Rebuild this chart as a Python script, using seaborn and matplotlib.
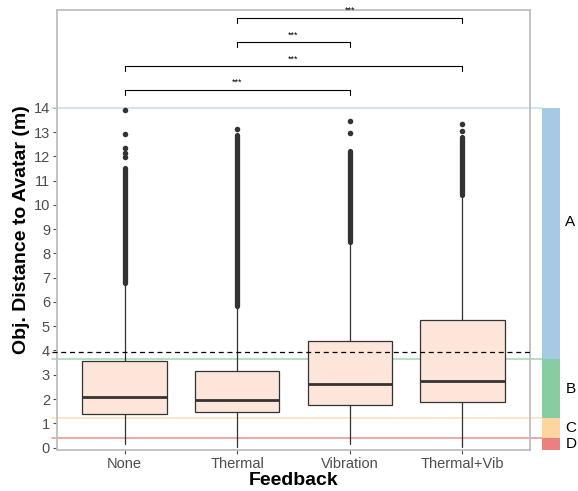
import matplotlib
matplotlib.use("Agg")
import matplotlib.pyplot as plt
import seaborn as sns
import pandas as pd
import numpy as np

# ---------------- data ----------------
categories = ["None", "Thermal", "Vibration", "Thermal+Vib"]
q1 = [1.40, 1.45, 1.76, 1.87]
median = [2.09, 1.98, 2.62, 2.73]
q3 = [3.55, 3.17, 4.40, 5.27]
whisker_low = [0.13, 0.01, 0.14, 0.02]
whisker_high = [6.75, 5.80, 8.40, 10.30]
# dense runs of outliers (start, end) per category
dense_low = [6.80, 5.85, 8.45, 10.40]
dense_high = [11.50, 12.86, 12.22, 12.80]
# isolated outliers
iso_cat = ["None", "None", "None", "None", "None",
           "Thermal",
           "Vibration", "Vibration",
           "Thermal+Vib", "Thermal+Vib"]
iso_val = [13.90, 12.92, 12.33, 12.15, 11.97,
           13.13,
           13.45, 12.96,
           13.32, 13.05]

# significance brackets
sig_left = ["None", "None", "Thermal", "Thermal"]
sig_right = ["Vibration", "Thermal+Vib", "Vibration", "Thermal+Vib"]
sig_y = [14.73, 15.71, 16.70, 17.70]
sig_label = ["***", "***", "***", "***"]

# zones on the right
zone_names = ["A", "B", "C", "D"]
zone_low = [3.65, 1.22, 0.40, -0.10]
zone_high = [14.0, 3.65, 1.22, 0.40]
zone_label_y = [9.3, 2.43, 0.82, 0.15]
zone_colors = ["#A6CAE3", "#88CCA2", "#FDD59F", "#EA8080"]
zone_line_colors = ["#C6DDEC", "#9FD6B4", "#FDE0B8", "#EE8E8E"]
zone_line_y = [14.0, 3.65, 1.22, 0.40]
threshold = 3.95

# ---------------- figure ----------------
sns.set_theme(style="white")
plt.rcParams["font.family"] = ["Liberation Sans", "DejaVu Sans"]

fig = plt.figure(figsize=(5.78, 4.91), dpi=100)
W, H = 578, 491
ax = fig.add_axes([57 / W, 1 - 450 / H, (530 - 57) / W, (450 - 9.5) / H])

pos = {c: i for i, c in enumerate(categories)}
stats = []
for i, c in enumerate(categories):
    stats.append(dict(label=c, q1=q1[i], med=median[i], q3=q3[i],
                      whislo=whisker_low[i], whishi=whisker_high[i], fliers=[]))
edge = "#333333"
ax.bxp(stats, positions=list(range(len(categories))), widths=0.75,
       patch_artist=True, showfliers=False, showcaps=False,
       boxprops=dict(facecolor="#FDE5D9", edgecolor=edge, linewidth=0.9),
       medianprops=dict(color=edge, linewidth=2.0),
       whiskerprops=dict(color=edge, linewidth=0.9), zorder=3)

# dense outliers as thick rounded runs
for i, c in enumerate(categories):
    ax.plot([pos[c], pos[c]], [dense_low[i], dense_high[i]], color=edge,
            linewidth=3.8, solid_capstyle="round", zorder=4)
iso_df = pd.DataFrame({"x": [pos[c] for c in iso_cat], "y": iso_val})
sns.scatterplot(data=iso_df, x="x", y="y", ax=ax, color=edge, s=16,
                linewidth=0, zorder=4, legend=False)

ax.set_xlim(-0.6, 3.6)
ax.set_ylim(-0.1, 18.05)

# horizontal reference lines (extend to the zone bar)
x_left = -0.6 - 5 / 112.4
x_right = 3.6 + 12 / 112.4
for yv, col in zip(zone_line_y, zone_line_colors):
    ax.plot([x_left, x_right], [yv, yv], color=col, linewidth=1.1,
            clip_on=False, zorder=2)
ax.plot([x_left, 3.6], [threshold, threshold], color="black", linewidth=0.9,
        linestyle=(0, (4, 3)), clip_on=False, zorder=5)

# significance brackets
tip = 0.2
for l, r, yv, lab in zip(sig_left, sig_right, sig_y, sig_label):
    xl, xr = pos[l], pos[r]
    ax.plot([xl, xl, xr, xr], [yv - tip, yv, yv, yv - tip], color="black",
            linewidth=0.8, zorder=5)
    ax.text((xl + xr) / 2, yv + 0.12, lab, ha="center", va="bottom",
            fontsize=6.5, color="black")

ax.set_xticks(range(len(categories)))
ax.set_xticklabels(categories)
ax.set_yticks(range(0, 15))
ax.tick_params(axis="both", which="both", length=3, width=0.8,
               color="#4D4D4D", labelcolor="#4D4D4D", labelsize=10.5,
               left=True, bottom=True, pad=2)
for s in ax.spines.values():
    s.set_color("#BEBEBE")
    s.set_linewidth(1.3)
ax.set_xlabel("Feedback", fontsize=14, fontweight="bold", color="black", labelpad=1)
ax.set_ylabel("Obj. Distance to Avatar (m)", fontsize=14, fontweight="bold",
              color="black", labelpad=3)
ax.grid(False)

# zone bar
zax = fig.add_axes([542 / W, 1 - 450 / H, 18 / W, (450 - 9.5) / H])
zax.set_ylim(-0.1, 18.05)
zax.set_xlim(0, 1)
for lo, hi, col, name, ly in zip(zone_low, zone_high, zone_colors, zone_names, zone_label_y):
    zax.bar(0.5, hi - lo, bottom=lo, width=1.0, color=col, linewidth=0)
    zax.text(1.3, ly, name, ha="left", va="center", fontsize=11, color="black",
             clip_on=False)
zax.axis("off")

fig.savefig("out.png", dpi=100)
